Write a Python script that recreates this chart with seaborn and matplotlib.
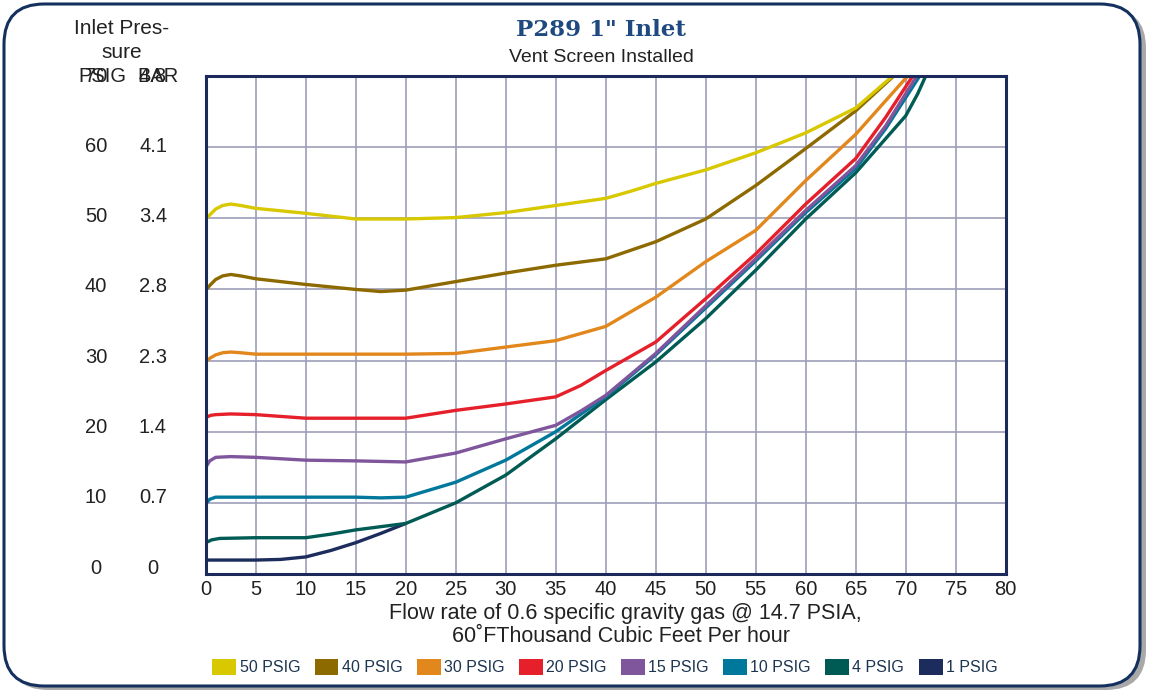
import matplotlib
matplotlib.use("Agg")
import matplotlib.pyplot as plt
from matplotlib.patches import FancyBboxPatch, Patch
import seaborn as sns
import pandas as pd

# ---------------- data ----------------
series_names = ["50 PSIG", "40 PSIG", "30 PSIG", "20 PSIG", "15 PSIG", "10 PSIG", "4 PSIG", "1 PSIG"]
series_colors = ["#d8c800", "#8d6a00", "#e2871b", "#e5202a", "#7f559b", "#00789b", "#005b54", "#1c2c5c"]

x_50 = [0, 0.5, 1, 1.7, 2.5, 3.5, 5, 10, 15, 20, 25, 30, 35, 40, 42.5, 45, 50, 55, 60, 65, 68.7]
y_50 = [49.9, 50.6, 51.3, 51.8, 52.0, 51.8, 51.4, 50.7, 49.9, 49.9, 50.1, 50.8, 51.8, 52.8, 53.8, 54.9, 56.8, 59.2, 62.0, 65.5, 70.0]

x_40 = [0, 0.5, 1, 1.7, 2.5, 3.5, 5, 10, 15, 17.5, 20, 25, 30, 35, 40, 45, 50, 55, 60, 65, 68.8]
y_40 = [39.9, 40.7, 41.4, 41.9, 42.1, 41.9, 41.5, 40.7, 40.0, 39.7, 39.9, 41.1, 42.3, 43.4, 44.3, 46.7, 49.9, 54.6, 59.8, 65.1, 70.0]

x_30 = [0, 0.5, 1, 1.7, 2.5, 3.5, 5, 10, 15, 20, 25, 30, 35, 40, 45, 50, 55, 60, 65, 70.2]
y_30 = [29.9, 30.4, 30.8, 31.1, 31.2, 31.1, 30.9, 30.9, 30.9, 30.9, 31.0, 31.9, 32.8, 34.8, 38.9, 43.9, 48.3, 55.3, 61.8, 70.0]

x_20 = [0, 0.5, 1, 2.5, 5, 10, 15, 20, 25, 30, 35, 37.5, 40, 45, 50, 55, 60, 65, 68, 70.7]
y_20 = [22.0, 22.3, 22.4, 22.5, 22.4, 21.9, 21.9, 21.9, 23.0, 23.9, 24.9, 26.5, 28.6, 32.6, 38.7, 45.0, 52.0, 58.4, 64.2, 70.0]

x_15 = [0, 0.4, 1, 2.5, 5, 10, 15, 20, 25, 30, 35, 37.5, 40, 45, 50, 55, 60, 65, 68, 71.1]
y_15 = [15.0, 15.9, 16.4, 16.5, 16.4, 16.0, 15.9, 15.75, 17.0, 19.0, 20.9, 22.9, 25.1, 31.0, 37.7, 44.3, 51.1, 57.4, 63.0, 70.0]

x_10 = [0, 0.4, 1, 2.5, 5, 10, 15, 17.5, 20, 25, 30, 35, 40, 45, 50, 55, 60, 65, 68, 71.4]
y_10 = [9.9, 10.5, 10.8, 10.8, 10.8, 10.8, 10.8, 10.7, 10.8, 12.9, 16.0, 20.0, 24.9, 30.8, 37.4, 44.0, 50.8, 57.0, 62.6, 70.0]

x_4 = [0, 0.6, 1.4, 5, 10, 12.5, 15, 20, 25, 30, 35, 40, 45, 50, 55, 60, 65, 70, 71.2, 72.0]
y_4 = [4.4, 4.8, 5.0, 5.1, 5.1, 5.6, 6.2, 7.1, 10.0, 13.9, 19.0, 24.5, 29.8, 35.9, 42.7, 49.9, 56.4, 64.4, 67.5, 70.0]

x_1 = [0, 5, 7.5, 10, 12.5, 15, 17.5, 20]
y_1 = [1.96, 1.96, 2.05, 2.4, 3.3, 4.4, 5.7, 7.1]

psig_ticks = [0, 10, 20, 30, 40, 50, 60, 70]
bar_labels = ["0", "0.7", "1.4", "2.3", "2.8", "3.4", "4.1", "4.8"]
x_ticks = list(range(0, 81, 5))

series_x = [x_50, x_40, x_30, x_20, x_15, x_10, x_4, x_1]
series_y = [y_50, y_40, y_30, y_20, y_15, y_10, y_4, y_1]

rows = []
for name, xs, ys in zip(series_names, series_x, series_y):
    for i, (a, b) in enumerate(zip(xs, ys)):
        rows.append({"series": name, "flow": a, "pressure": b, "order": i})
df = pd.DataFrame(rows)

# ---------------- figure ----------------
sns.set_style("white")
plt.rcParams["font.family"] = ["Liberation Sans", "DejaVu Sans"]

W, H = 1150, 691
TXT = "#222222"
fig = plt.figure(figsize=(W / 100, H / 100), dpi=100)
fig.patch.set_facecolor("white")

# rounded frame with shadow
shadow = FancyBboxPatch((8 / W, 1 / H), (1138 / W), (682 / H),
                        boxstyle="round,pad=0,rounding_size=0.035",
                        transform=fig.transFigure, facecolor="#a8a8a8", edgecolor="none",
                        mutation_aspect=W / H, zorder=-3)
frame = FancyBboxPatch((4 / W, 5 / H), (1136 / W), (682 / H),
                       boxstyle="round,pad=0,rounding_size=0.035",
                       transform=fig.transFigure, facecolor="white", edgecolor="#13305f",
                       linewidth=2.2, mutation_aspect=W / H, zorder=-2)
fig.patches.extend([shadow, frame])

left, right, top, bottom = 205.7, 1005.7, 76, 574
ax = fig.add_axes([left / W, 1 - bottom / H, (right - left) / W, (bottom - top) / H])
ax.set_facecolor("none")
ax.set_zorder(1)

draw_order = series_names[::-1]
palette = dict(zip(series_names, series_colors))
sns.lineplot(data=df, x="flow", y="pressure", hue="series", hue_order=draw_order,
             palette=palette, sort=False, estimator=None, units="series",
             linewidth=2.4, ax=ax, legend=False)
for ln in ax.lines:
    ln.set_solid_joinstyle("round")
    ln.set_solid_capstyle("round")

ax.set_xlim(0, 80)
ax.set_ylim(0, 70)
ax.set_xticks(x_ticks)
ax.set_xticklabels([str(v) for v in x_ticks])
ax.set_yticks(psig_ticks)
ax.set_yticklabels([])
ax.grid(True, color="#9d9db8", linewidth=1.2)
ax.set_axisbelow(True)
for s in ax.spines.values():
    s.set_color("#1b2a5a")
    s.set_linewidth(2.2)
ax.tick_params(axis="x", length=0, pad=4.5, labelsize=14.5, labelcolor=TXT)
ax.tick_params(axis="y", length=0)
ax.set_xlabel("")
ax.set_ylabel("")

# PSIG and BAR label columns (label row pitch is slightly tighter than the grid, as in the reference)
for v, lab in zip(psig_ticks, bar_labels):
    py = 568 - v * (492 / 70)
    fig.text(96 / W, 1 - py / H, str(v), ha="center", va="center", fontsize=14.5, color=TXT)
    fig.text(153 / W, 1 - py / H, lab, ha="center", va="center", fontsize=14.5, color=TXT)

# header of the y columns
fig.text(122 / W, 1 - 28 / H, "Inlet Pres-", ha="center", va="center", fontsize=15, color=TXT)
fig.text(122 / W, 1 - 52 / H, "sure", ha="center", va="center", fontsize=15, color=TXT)
fig.text(102 / W, 1 - 77 / H, "PSIG", ha="center", va="center", fontsize=14.5, color=TXT)
fig.text(158 / W, 1 - 77 / H, "BAR", ha="center", va="center", fontsize=14.5, color=TXT)

# titles
fig.text(601 / W, 1 - 30 / H, "P289 1\" Inlet", ha="center", va="center", fontsize=16.5,
         fontweight="heavy", color="#1f4a80", family=["DejaVu Serif", "DejaVu Sans"])
fig.text(601 / W, 1 - 57 / H, "Vent Screen Installed", ha="center", va="center",
         fontsize=14, color=TXT)

# x-axis label
fig.text(625 / W, 1 - 613 / H, "Flow rate of 0.6 specific gravity gas @ 14.7 PSIA,",
         ha="center", va="center", fontsize=15.5, color=TXT)
fig.text(621 / W, 1 - 637 / H, "60˚FThousand Cubic Feet Per hour",
         ha="center", va="center", fontsize=15.5, color=TXT)

# legend
handles = [Patch(facecolor=c, edgecolor="none") for c in series_colors]
leg = fig.legend(handles, series_names, loc="center", bbox_to_anchor=(605 / W, 1 - 667 / H),
                 ncol=8, frameon=False, fontsize=11.5, handlelength=1.5, handleheight=1.2,
                 handletextpad=0.2, columnspacing=0.9, borderaxespad=0)
for t in leg.get_texts():
    t.set_color("#1c3550")

fig.savefig("out.png", dpi=100)
